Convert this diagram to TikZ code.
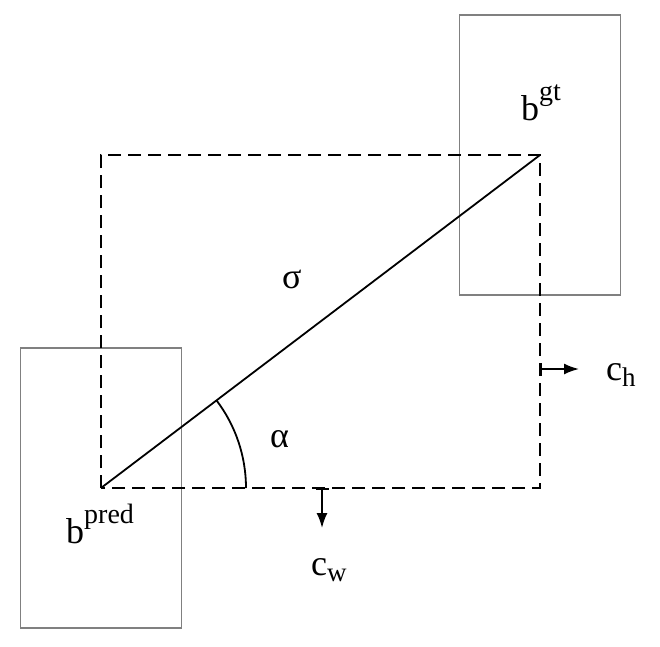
\documentclass[tikz,border=0pt]{standalone}
\usepackage{fontspec}
\setmainfont{Liberation Serif}
\usetikzlibrary{arrows.meta}
\newcommand{\supx}[1]{\raisebox{20pt}{\fontsize{28}{30}\selectfont #1}}
\newcommand{\subx}[1]{\raisebox{-6pt}{\fontsize{27}{30}\selectfont #1}}

\begin{document}
\begin{tikzpicture}[x=1pt,y=-1pt]
\tikzstyle{bbox}=[draw=black!50, line width=1.1pt, minimum width=161pt, minimum height=280pt, inner sep=0pt]
\tikzstyle{lbl}=[inner sep=0pt, anchor=base west, font=\fontsize{36}{40}\selectfont]
\tikzstyle{dashline}=[line width=2pt, dash pattern=on 13pt off 7pt]
\tikzstyle{movearrow}=[line width=1.8pt, {Bar[width=13pt]}-{Latex[length=15pt,width=11pt]}]
\useasboundingbox (0,0) rectangle (660,646);
\coordinate (pred) at (101,488);
\coordinate (gt) at (540,155);
\node[bbox] (predbox) at (pred) {};
\node[bbox] (gtbox) at (gt) {};
\draw[dashline] (pred) rectangle (gt);
\draw[line width=1.8pt] (pred) -- (gt);
\draw[line width=1.8pt] (pred) ++(145,0) arc[start angle=0, end angle=37.2, radius=145pt];
\coordinate (cwfrom) at (322,488);
\coordinate (cwto) at (322,528);
\coordinate (chfrom) at (540,369);
\coordinate (chto) at (579,369);
\draw[movearrow] (cwfrom) -- (cwto);
\draw[movearrow] (chfrom) -- (chto);
\node[lbl] (gtlabel) at (521,120) {b\supx{gt}};
\node[lbl] (predlabel) at (66,543) {b\supx{pred}};
\node[lbl] (sigma) at (282,288) {σ};
\node[lbl] (alpha) at (270,447) {α};
\node[lbl] (cw) at (311,575) {c\subx{w}};
\node[lbl] (ch) at (606,380) {c\subx{h}};
\end{tikzpicture}
\end{document}
